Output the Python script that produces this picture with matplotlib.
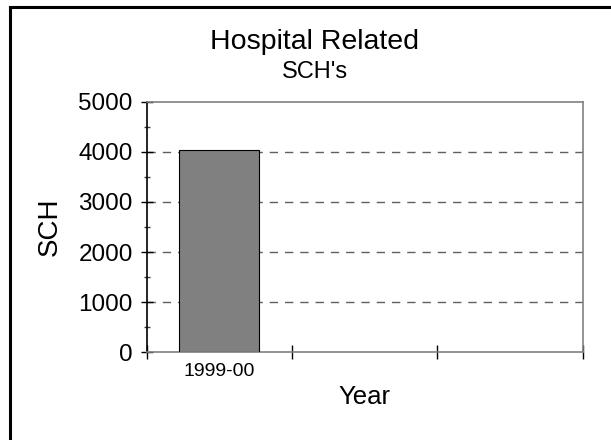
import numpy as np
import matplotlib
matplotlib.use('Agg')
import matplotlib.pyplot as plt
from matplotlib.lines import Line2D
from matplotlib.ticker import FixedLocator, MultipleLocator

###############################################################################
# Data
###############################################################################
YEARS = ['1999-00', '', '']
SCH = [4030, np.nan, np.nan]
Y_TICKS = [0, 1000, 2000, 3000, 4000, 5000]
(W, H, DPI) = (6.11, 4.40, 100)
GRAY = '#808080'
###############################################################################
# Figure
###############################################################################
plt.rcParams['font.family'] = ['Liberation Sans', 'DejaVu Sans']
fig = plt.figure(figsize=(W, H), dpi=DPI)
ax = fig.add_axes([146.7/611, 1-352/440, 436/611, 250/440])
xs = np.arange(len(YEARS))
vals = np.array(SCH, dtype=float)
keep = ~np.isnan(vals)
ax.bar(
    xs[keep], vals[keep], width=0.55,
    color=GRAY, edgecolor='black', linewidth=0.8, zorder=3
)
# grid and frame
for v in Y_TICKS[1:-1]:
    ax.axhline(v, color='#606060', lw=1.0, ls=(0, (6, 5)), zorder=1)
ax.set_xlim(-0.5, len(YEARS)-0.5)
ax.set_ylim(Y_TICKS[0], Y_TICKS[-1])
for side in ('top', 'right', 'bottom'):
    ax.spines[side].set_color(GRAY)
    ax.spines[side].set_linewidth(1.2)
ax.spines['left'].set_color('black')
ax.spines['left'].set_linewidth(1.2)
ax.spines['top'].set_zorder(4)
# ticks
ax.set_yticks(Y_TICKS)
ax.yaxis.set_minor_locator(MultipleLocator(500))
ax.tick_params(
    axis='y', which='major', direction='inout', length=9, width=1,
    labelsize=17.5, pad=5.5, colors='black'
)
ax.tick_params(
    axis='y', which='minor', direction='inout', length=5, width=1,
    colors='#404040'
)
ax.xaxis.set_major_locator(FixedLocator(np.arange(len(YEARS)+1)-0.5))
ax.xaxis.set_major_formatter(plt.NullFormatter())
ax.xaxis.set_minor_locator(FixedLocator(xs))
ax.set_xticklabels(YEARS, minor=True)
ax.tick_params(
    axis='x', which='major', direction='inout', length=10, width=1,
    colors='black'
)
ax.tick_params(axis='x', which='minor', length=0, labelsize=14, pad=8)
ax.set_ylabel('SCH', fontsize=20, labelpad=10)
ax.yaxis.set_label_coords(-0.192, 0.5)
ax.set_xlabel('Year', fontsize=18.5)
ax.xaxis.set_label_coords(0.5, -0.18)
ax.xaxis.label.set_verticalalignment('center')
###############################################################################
# Titles and border
###############################################################################
fig.text(314.5/611, 1-49/440, 'Hospital Related', fontsize=20.5,
         ha='center', va='baseline')
fig.text(314.5/611, 1-78/440, "SCH's", fontsize=17,
         ha='center', va='baseline')
fig.add_artist(Line2D([9.5/611, 9.5/611], [0, 1-7/440],
                      color='black', lw=2.2, solid_capstyle='projecting'))
fig.add_artist(Line2D([9.5/611, 1], [1-7/440, 1-7/440],
                      color='black', lw=2.2, solid_capstyle='projecting'))
fig.savefig('out.png', dpi=DPI)
plt.close('all')
